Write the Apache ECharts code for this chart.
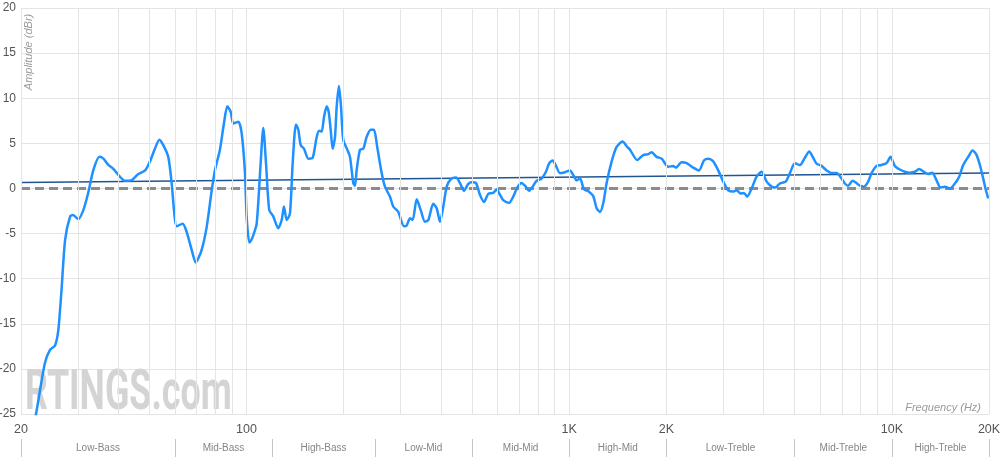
<!DOCTYPE html>
<html>
<head>
<meta charset="utf-8">
<script src="https://cdn.jsdelivr.net/npm/echarts@6/dist/echarts.min.js"></script>
<style>
html,body{margin:0;padding:0;background:#fff;}
#chart{width:1000px;height:466px;}
</style>
</head>
<body>
<div id="chart"></div>
<script>
// Frequency response (Hz, dBr)
const freqHz = [20,22.26,23.7,24.6,25.5,26.1,26.7,27.4,28.4,29.0,30.1,31.2,32.3,33.5,35.0,36.0,37.3,38.6,40.5,42.0,44.1,46.2,48.5,50.2,52.0,53.7,55.2,57.2,58.6,59.6,60.7,63.4,65.2,67.6,69.6,72.6,75.3,78.0,79.8,82.7,85.1,87.2,89.3,91.0,94.3,96.6,98.9,100.1,102.0,103.2,104.9,107.5,110.6,112.7,114.9,117.6,121.0,125.4,128.5,130.6,133.2,136.3,139.0,142.3,144.7,147.2,150.7,155.4,160.3,165.0,168.0,170.9,173.8,177.2,179.7,182.3,184.9,188.0,190.3,193.4,196.2,199.4,205.2,209.2,214.2,216.8,219.4,224.7,230.0,235.6,242.5,248.2,254.1,262.3,268.5,278.2,284.9,295.2,307.6,313.6,321.1,327.3,336.8,346.6,357.4,365.9,379.1,388.4,397.7,407.2,417.2,429.2,445.8,458.7,472.0,486.7,498.6,514.1,529.0,544.3,561.3,581.7,595.9,610.1,624.7,650.6,670.9,690.3,712.3,729.3,752.1,773.8,792.8,821.6,847.2,867.4,888.7,909.8,936.2,970.2,1005,1029,1055,1080,1111,1146,1187,1216,1245,1275,1306,1354,1403,1464,1513,1543,1625,1696,1758,1801,1866,1934,2027,2101,2142,2231,2312,2423,2524,2616,2697,2795,2896,3002,3111,3223,3303,3398,3479,3562,3676,3809,3947,4091,4239,4340,4498,4684,4830,5006,5188,5376,5543,5704,5844,6056,6275,6503,6739,6984,7150,7321,7554,7734,7958,8188,8444,8651,8965,9290,9627,9906,10215,10586,10970,11368,11781,12148,12562,12954,13329,13753,14152,14592,15132,15681,16170,16638,17243,17792,18307,18743,19190,19563,19886];
const amplitudeDb = [-33,-25,-19.4,-17.9,-17.4,-15.7,-11.3,-5.7,-3.1,-2.95,-3.4,-2.4,-0.5,2.0,3.5,3.3,2.6,2.2,1.3,0.85,0.93,1.6,2.0,3.0,4.4,5.4,4.8,3.5,0.6,-2.4,-4.2,-3.9,-4.8,-6.8,-8.2,-6.8,-4.2,-0.2,2.0,4.3,7.2,9.1,8.5,7.2,7.4,6.1,1.7,-3.2,-6.0,-5.8,-5.2,-3.9,2.8,6.7,2.8,-2.4,-3.1,-4.4,-3.5,-2.0,-3.5,-2.8,2.8,7.1,6.5,4.8,4.4,3.3,3.4,5.7,6.4,6.3,7.9,9.1,8.5,6.5,4.4,5.7,9.1,11.35,9.1,5.4,4.3,3.5,0.6,0.3,2.0,4.3,4.4,5.7,6.5,6.5,4.6,1.7,0.2,-0.9,-2.0,-2.6,-4.2,-4.1,-3.3,-3.5,-1.2,-2.4,-3.7,-3.5,-1.7,-2.2,-3.7,-2.0,0.2,1.0,1.2,0.6,-0.25,0.5,0.7,0.6,-0.7,-1.5,-0.6,-0.5,-0.1,-0.7,-1.3,-1.6,-0.9,0.1,0.6,0.3,-0.25,0.3,0.85,1.1,1.85,2.8,3.1,2.5,1.7,1.8,2.0,1.5,0.9,1.1,-0.1,-0.3,-0.85,-2.2,-2.6,-1.65,0.6,3.0,4.6,5.2,4.6,4.3,3.15,3.7,3.8,4.0,3.5,3.3,2.4,2.5,2.3,2.9,2.8,2.3,2.0,3.1,3.3,3.0,2.0,0.75,-0.2,-0.35,-0.2,-0.55,-0.5,-0.9,0.0,1.3,1.85,0.75,0.2,0.1,0.55,0.75,1.7,2.8,2.6,3.4,4.1,3.4,2.75,2.5,2.0,1.7,1.7,1.1,0.55,0.3,0.85,0.65,0.3,0.2,0.75,1.7,2.5,2.6,2.8,3.5,2.5,2.1,1.85,1.75,1.85,2.15,1.85,1.6,1.75,0.9,0.1,0.2,0.0,0.55,1.3,2.6,3.5,4.2,3.7,2.6,1.1,-0.2,-1.1];

// Target curve endpoints
const targetHz = [20, 20000];
const targetDb = [0.65, 1.7];

// Axis ticks / grid
const yTicks = [20, 15, 10, 5, 0, -5, -10, -15, -20, -25];
const gridFreqs = [20,30,40,50,60,70,80,90,100,200,300,400,500,600,700,800,900,1000,2000,3000,4000,5000,6000,7000,8000,9000,10000,20000];
const labeledFreqs = [20, 100, 1000, 2000, 10000, 20000];
const labeledTexts = ['20', '100', '1K', '2K', '10K', '20K'];

// Frequency bands
const bandNames = ['Low-Bass','Mid-Bass','High-Bass','Low-Mid','Mid-Mid','High-Mid','Low-Treble','Mid-Treble','High-Treble'];
const bandEdges = [20,60,120,250,500,1000,2000,5000,10000,20000];

const FONT = '"Liberation Sans", Arial, sans-serif';

const curveData = freqHz.map((f, i) => [f, amplitudeDb[i]]);
const targetData = targetHz.map((f, i) => [f, targetDb[i]]);

const gridLineData = gridFreqs.map(f => {
  const idx = labeledFreqs.indexOf(f);
  if (idx >= 0) {
    return {
      xAxis: f,
      label: {
        show: true, position: 'start', distance: 9,
        formatter: labeledTexts[idx],
        color: '#555', fontSize: 12.5, fontFamily: FONT
      }
    };
  }
  return { xAxis: f, label: { show: false } };
});

const bandLabelData = bandNames.map((n, i) => ({
  value: [Math.sqrt(bandEdges[i] * bandEdges[i + 1]), 0.5],
  name: n
}));

const chart = echarts.init(document.getElementById('chart'), null, { renderer: 'canvas' });
chart.setOption({
  animation: false,
  backgroundColor: '#fff',
  grid: [
    { left: 21, right: 11, top: 8, bottom: 52, outerBoundsMode: 'none', containLabel: false },
    { left: 21, right: 11, top: 439, height: 18, outerBoundsMode: 'none', containLabel: false }
  ],
  xAxis: [
    {
      type: 'log', logBase: 10, min: 20, max: 20000, gridIndex: 0,
      axisLine: { show: false }, axisTick: { show: false },
      axisLabel: { show: false }, splitLine: { show: false }
    },
    {
      type: 'log', logBase: 10, min: 20, max: 20000, gridIndex: 1,
      axisLine: { show: false }, axisTick: { show: false },
      axisLabel: { show: false }, splitLine: { show: false }
    }
  ],
  yAxis: [
    {
      type: 'value', min: -25, max: 20, interval: 5, gridIndex: 0,
      axisLine: { show: false }, axisTick: { show: false },
      axisLabel: { color: '#555', fontSize: 12, fontFamily: FONT, margin: 5 },
      splitLine: { show: true, lineStyle: { color: '#e4e4e4', width: 1 } }
    },
    {
      type: 'value', min: 0, max: 1, gridIndex: 1, show: false
    }
  ],
  graphic: [
    {
      type: 'text', left: 25, top: 367, z: 1, silent: true,
      scaleX: 0.64,
      style: { text: 'RTINGS.com', font: 'bold 56px Roboto, "Liberation Sans", sans-serif', fill: '#d4d4d4' }
    },
    {
      type: 'text', x: 29, y: 52, rotation: Math.PI / 2, silent: true,
      style: { text: 'Amplitude (dBr)', font: 'italic 11px ' + FONT, fill: '#9a9a9a', align: 'center', verticalAlign: 'middle' }
    },
    {
      type: 'text', x: 981, y: 408, silent: true,
      style: { text: 'Frequency (Hz)', font: 'italic 11px ' + FONT, fill: '#9a9a9a', align: 'right', verticalAlign: 'middle' }
    }
  ],
  series: [
    {
      name: 'zero', type: 'line', xAxisIndex: 0, yAxisIndex: 0, z: 2,
      data: [[20, 0], [20000, 0]], symbol: 'none', silent: true,
      lineStyle: { color: '#8c8c8c', width: 3, type: [9, 5] },
      markLine: {
        silent: true, symbol: ['none', 'none'], animation: false,
        lineStyle: { color: '#e4e4e4', width: 1, type: 'solid' },
        emphasis: { disabled: true },
        data: gridLineData
      }
    },
    {
      name: 'target', type: 'line', xAxisIndex: 0, yAxisIndex: 0, z: 3,
      data: targetData, symbol: 'none', silent: true,
      lineStyle: { color: '#1f5591', width: 1.5 }
    },
    {
      name: 'response', type: 'line', xAxisIndex: 0, yAxisIndex: 0, z: 4,
      data: curveData, symbol: 'none', smooth: 0.25, clip: true,
      lineStyle: { color: '#1e90ff', width: 2.5 }
    },
    {
      name: 'bands', type: 'scatter', xAxisIndex: 1, yAxisIndex: 1,
      data: bandLabelData, symbolSize: 0, silent: true,
      label: {
        show: true, position: 'inside', formatter: p => p.name,
        color: '#666', fontSize: 10, fontFamily: FONT
      },
      markLine: {
        silent: true, symbol: ['none', 'none'], animation: false,
        label: { show: false },
        lineStyle: { color: '#c4c4c4', width: 1, type: 'solid' },
        data: bandEdges.map(f => ({ xAxis: f }))
      }
    }
  ]
});
</script>
</body>
</html>
